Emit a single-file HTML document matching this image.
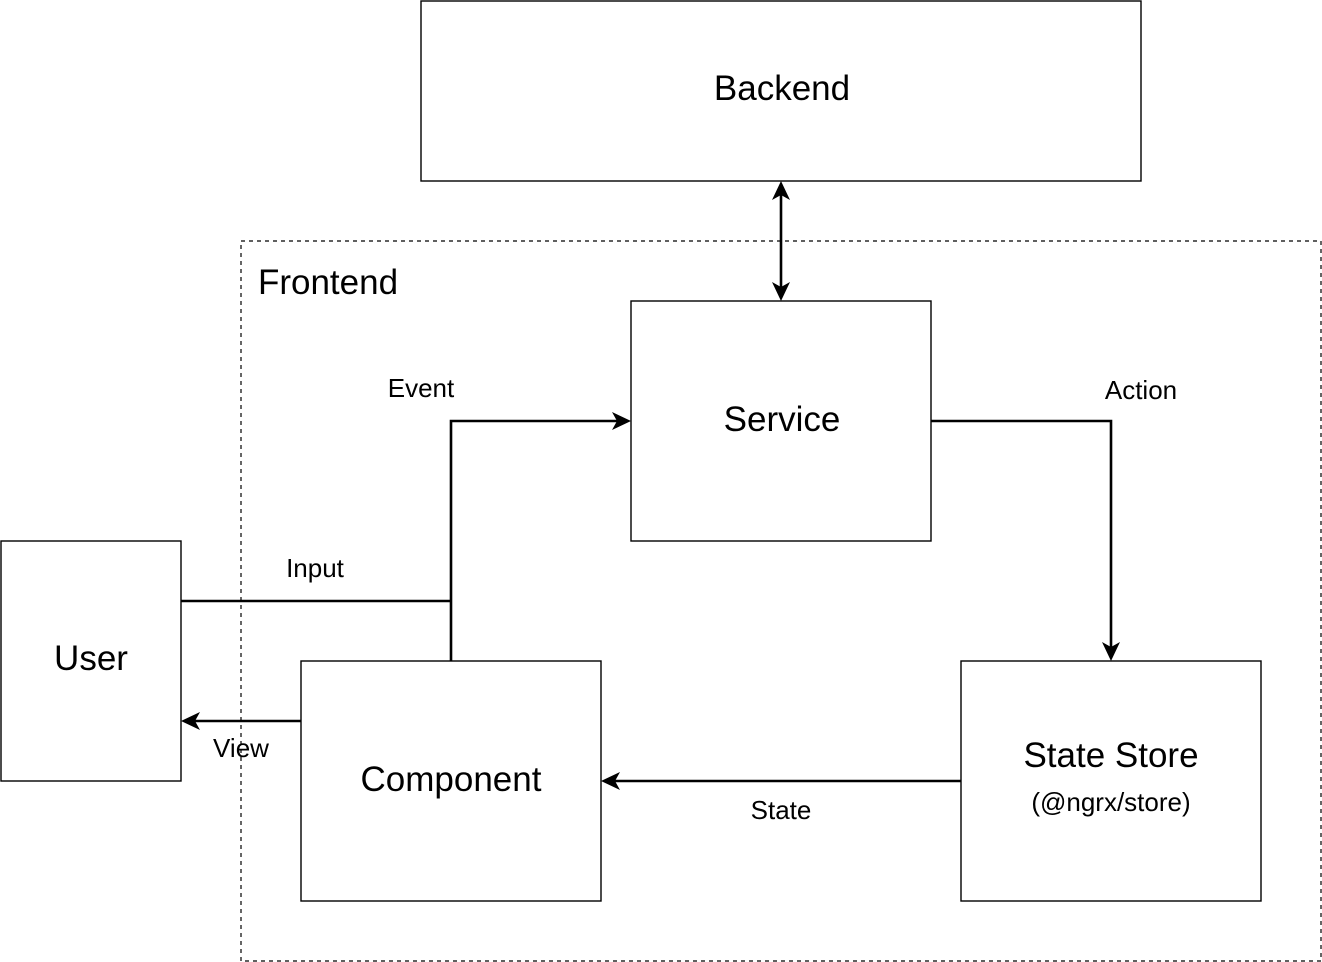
<!DOCTYPE html>
<html><head><meta charset="utf-8"><style>html,body{margin:0;padding:0;background:#fff}svg{display:block}</style></head>
<body>
<svg width="1322" height="962" viewBox="0 0 1322 962" xmlns="http://www.w3.org/2000/svg" font-family="Liberation Sans, sans-serif">
<rect x="241" y="241" width="1080" height="720" fill="none" stroke="#000" stroke-width="1.2" stroke-dasharray="4,4"/>
<rect x="421" y="1" width="720" height="180" fill="#fff" stroke="#000" stroke-width="1.4"/>
<rect x="631" y="301" width="300" height="240" fill="#fff" stroke="#000" stroke-width="1.4"/>
<rect x="1" y="541" width="180" height="240" fill="#fff" stroke="#000" stroke-width="1.4"/>
<rect x="301" y="661" width="300" height="240" fill="#fff" stroke="#000" stroke-width="1.4"/>
<rect x="961" y="661" width="300" height="240" fill="#fff" stroke="#000" stroke-width="1.4"/>
<g stroke="#000" stroke-width="2.6" fill="none">
<line x1="781" y1="190" x2="781" y2="292"/>
<polyline points="451,661 451,421 622,421"/>
<line x1="181" y1="601" x2="451" y2="601"/>
<polyline points="931,421 1111,421 1111,652"/>
<line x1="961" y1="781" x2="610" y2="781"/>
<line x1="301" y1="721" x2="190" y2="721"/>
</g>
<g fill="#000">
<polygon points="781,181 790,200 781,195 772,200"/>
<polygon points="781,301 790,282 781,287 772,282"/>
<polygon points="631,421 612,412 617,421 612,430"/>
<polygon points="1111,661 1102,642 1111,647 1120,642"/>
<polygon points="601,781 620,772 615,781 620,790"/>
<polygon points="181,721 200,712 195,721 200,730"/>
</g>
<g fill="#000" text-anchor="middle" font-size="35">
<text x="782" y="100">Backend</text>
<text x="782" y="431">Service</text>
<text x="91" y="670">User</text>
<text x="451" y="791">Component</text>
<text x="1111" y="767">State Store</text>
<text x="328" y="294">Frontend</text>
</g>
<g fill="#000" text-anchor="middle" font-size="26">
<text x="1111" y="811">(@ngrx/store)</text>
<text x="421" y="397">Event</text>
<text x="315" y="577">Input</text>
<text x="1141" y="399">Action</text>
<text x="241" y="757">View</text>
<text x="781" y="819">State</text>
</g>
</svg>
</body></html>
